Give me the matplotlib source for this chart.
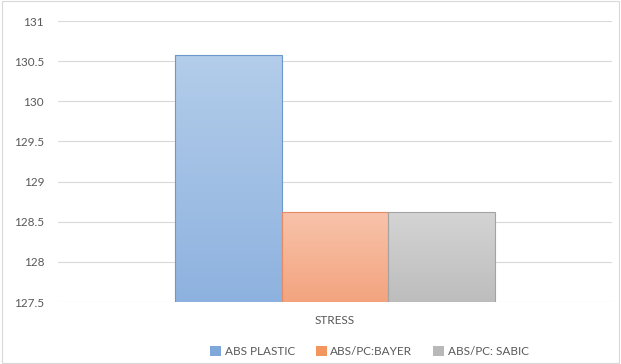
import matplotlib.pyplot as plt
import numpy as np
from matplotlib.patches import Rectangle

plt.rcParams['font.family'] = ['Lato', 'DejaVu Sans']

category = 'STRESS'
materials = ['ABS PLASTIC', 'ABS/PC:BAYER', 'ABS/PC: SABIC']
stress = [130.58, 128.62, 128.62]

# top / bottom gradient colours and edge colours for each series
grad_top = ['#b3cdea', '#f8c3aa', '#d4d4d4']
grad_bot = ['#8eb2df', '#f3a47f', '#bdbdbd']
edges = ['#6c98cc', '#e58c66', '#a3a3a3']
legend_fc = ['#7fa7da', '#f2955f', '#b8b8b8']

ymin, ymax = 127.5, 131
text_col = '#595959'

fig = plt.figure(figsize=(6.21, 3.64), dpi=100)
ax = fig.add_axes([0.0934, 0.1703, 0.892, 0.772])

# light border round the whole chart area
fig.patches.append(Rectangle((0.003, 0.003), 0.994, 0.994, transform=fig.transFigure,
                             fill=False, edgecolor='#d9d9d9', linewidth=0.8))

width = 0.193
offsets = (np.arange(len(materials)) - 1) * width
for i, (m, v) in enumerate(zip(materials, stress)):
    x0 = offsets[i] - width / 2
    bar = ax.bar(offsets[i], v - ymin, width, bottom=ymin, color='none',
                 edgecolor=edges[i], linewidth=0.8, zorder=3)[0]
    c1 = np.array(plt.matplotlib.colors.to_rgb(grad_top[i]))
    c2 = np.array(plt.matplotlib.colors.to_rgb(grad_bot[i]))
    t = np.linspace(0, 1, 100)[:, None]
    img = (c1 * (1 - t) + c2 * t)[:, None, :]
    im = ax.imshow(img, extent=[x0, x0 + width, ymin, v], aspect='auto',
                   origin='upper', zorder=2)
    im.set_clip_path(bar)
    # legend proxy
    ax.bar(0, 0, 0, color=legend_fc[i], label=m)

ax.set_xlim(-0.5, 0.5)
ax.set_ylim(ymin, ymax)
ax.set_yticks(np.arange(127.5, 131.01, 0.5))
ax.set_yticklabels(['127.5', '128', '128.5', '129', '129.5', '130', '130.5', '131'])
ax.set_xticks([0])
ax.set_xticklabels([category])
ax.tick_params(length=0, labelsize=8.5, labelcolor=text_col)
ax.tick_params(axis='x', pad=9)
ax.tick_params(axis='y', pad=10)
ax.yaxis.grid(True, color='#d9d9d9', linewidth=0.8, zorder=0)
ax.set_axisbelow(True)
for s in ax.spines.values():
    s.set_visible(False)

fig.legend(loc='center', bbox_to_anchor=(0.595, 0.035), ncol=3, frameon=False,
           fontsize=8.5, labelcolor=text_col, handlelength=0.9, handleheight=0.9,
           handletextpad=0.3, columnspacing=1.8)

fig.savefig('out.png', dpi=100)
